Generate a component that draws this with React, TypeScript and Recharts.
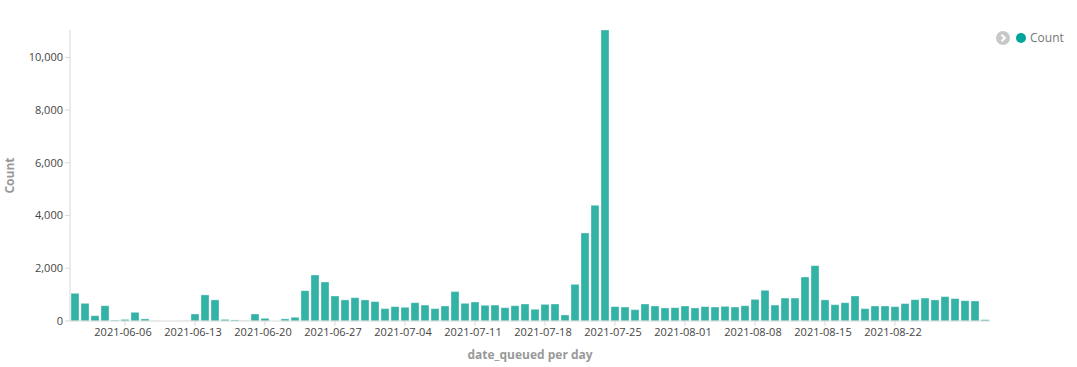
import React from 'react';
import { BarChart, Bar, XAxis, YAxis } from 'recharts';

const juneDays = [
  '2021-06-01', '2021-06-02', '2021-06-03', '2021-06-04', '2021-06-05', '2021-06-06', '2021-06-07',
  '2021-06-08', '2021-06-09', '2021-06-10', '2021-06-11', '2021-06-12', '2021-06-13', '2021-06-14',
  '2021-06-15', '2021-06-16', '2021-06-17', '2021-06-18', '2021-06-19', '2021-06-20', '2021-06-21',
  '2021-06-22', '2021-06-23', '2021-06-24', '2021-06-25', '2021-06-26', '2021-06-27', '2021-06-28',
  '2021-06-29', '2021-06-30',
];
const julyDays = [
  '2021-07-01', '2021-07-02', '2021-07-03', '2021-07-04', '2021-07-05', '2021-07-06', '2021-07-07',
  '2021-07-08', '2021-07-09', '2021-07-10', '2021-07-11', '2021-07-12', '2021-07-13', '2021-07-14',
  '2021-07-15', '2021-07-16', '2021-07-17', '2021-07-18', '2021-07-19', '2021-07-20', '2021-07-21',
  '2021-07-22', '2021-07-23', '2021-07-24', '2021-07-25', '2021-07-26', '2021-07-27', '2021-07-28',
  '2021-07-29', '2021-07-30', '2021-07-31',
];
const augustDays = [
  '2021-08-01', '2021-08-02', '2021-08-03', '2021-08-04', '2021-08-05', '2021-08-06', '2021-08-07',
  '2021-08-08', '2021-08-09', '2021-08-10', '2021-08-11', '2021-08-12', '2021-08-13', '2021-08-14',
  '2021-08-15', '2021-08-16', '2021-08-17', '2021-08-18', '2021-08-19', '2021-08-20', '2021-08-21',
  '2021-08-22', '2021-08-23', '2021-08-24', '2021-08-25', '2021-08-26', '2021-08-27', '2021-08-28',
  '2021-08-29', '2021-08-30', '2021-08-31',
];
const days = [...juneDays, ...julyDays, ...augustDays];

const counts = [
  1050, 670, 200, 580, 30, 60, 330, 80, 5, 0, 0, 5, 265, 990, 800, 60, 40, 10, 265, 100, 0, 80, 140,
  1150, 1745, 1480, 950, 800, 885, 800, 735, 470, 545, 520, 695, 605, 470, 570, 1115, 670, 720, 595, 605, 505, 580, 645,
  445, 630, 645, 230, 1390, 3340, 4390, 11040, 545, 530, 430, 645, 570, 495, 505, 570, 495, 545, 530, 555, 530, 580, 820,
  1165, 605, 870, 870, 1670, 2100, 800, 620, 695, 950, 470, 570, 570, 545, 660, 810, 870, 800, 925, 850, 770, 760, 50,
];

const xTicks = [
  '2021-06-06', '2021-06-13', '2021-06-20', '2021-06-27', '2021-07-04', '2021-07-11',
  '2021-07-18', '2021-07-25', '2021-08-01', '2021-08-08', '2021-08-15', '2021-08-22',
];
const yTicks = [0, 2000, 4000, 6000, 8000, 10000];

const data = days.map((d, i) => ({ day: d, count: counts[i] }));

const FONT = '"Open Sans", sans-serif';
const AXIS = '#d9d9d9';
const TICK_TEXT = '#444444';
const TITLE = '#999999';

// legend drawn by hand so it doesn't push the plot down
const LegendBox = () => (
  <div
    style={{
      position: 'absolute', top: 29, left: 995,
      display: 'flex', alignItems: 'center', fontFamily: FONT, fontSize: 12, color: '#777777',
    }}
  >
    <svg width={16} height={16} style={{ marginRight: 4 }}>
      <circle cx={8} cy={8} r={7} fill="#c8c8c8" />
      <path d="M6.5 4.8 L9.8 8 L6.5 11.2" stroke="#fff" strokeWidth={2} fill="none" />
    </svg>
    <svg width={12} height={12} style={{ marginRight: 3 }}>
      <circle cx={6} cy={6} r={5} fill="#00a69b" />
    </svg>
    <span>Count</span>
  </div>
);

const App = () => (
  <div style={{ position: 'absolute', left: 0, top: 0, width: 1077, height: 367, background: '#fff' }}>
    <BarChart
      width={1077}
      height={367}
      data={data}
      margin={{ top: 30, right: 87, bottom: 0, left: 0 }}
      barCategoryGap={1}
    >
      <XAxis
        dataKey="day"
        ticks={xTicks}
        interval={0}
        height={46}
        tickSize={5}
        stroke={AXIS}
        tick={{ fill: TICK_TEXT, fontSize: 11, fontFamily: FONT, dx: -2 }}
        label={{
          value: 'date_queued per day',
          position: 'insideBottom',
          offset: 8,
          fill: TITLE,
          fontSize: 12,
          fontWeight: 700,
          fontFamily: FONT,
        }}
      />
      <YAxis
        width={70}
        domain={[0, 11040]}
        ticks={yTicks}
        tickSize={5}
        stroke={AXIS}
        allowDataOverflow
        tickFormatter={(v: number) => v.toLocaleString('en-US')}
        tick={{ fill: TICK_TEXT, fontSize: 11, fontFamily: FONT }}
        label={{
          value: 'Count',
          angle: -90,
          position: 'insideLeft',
          offset: 10,
          fill: TITLE,
          fontSize: 12,
          fontWeight: 700,
          fontFamily: FONT,
          style: { textAnchor: 'middle' },
        }}
      />
      <Bar
        dataKey="count"
        fill="#33b2a6"
        stroke="rgba(255,255,255,0.35)"
        strokeWidth={1}
        isAnimationActive={false}
      />
    </BarChart>
    <LegendBox />
  </div>
);

export default App;
